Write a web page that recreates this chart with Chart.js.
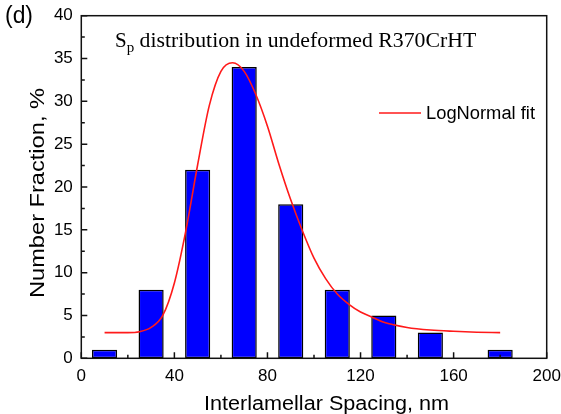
<!DOCTYPE html>
<html>
<head>
<meta charset="utf-8">
<script src="https://cdn.jsdelivr.net/npm/chart.js@4"></script>
<style>
  html, body { margin: 0; padding: 0; background: #ffffff; }
  #wrap { width: 561px; height: 414px; position: relative; }
</style>
</head>
<body>
<div id="wrap"><canvas id="c" width="561" height="414"></canvas></div>
<script>
// ---- data ----
const binCenters = [10, 30, 50, 70, 90, 110, 130, 150, 180];
const binFractions = [1, 8, 22, 34, 18, 8, 5, 3, 1];

const fitX = [10, 20, 25, 30, 35, 40, 45, 50, 55, 60, 65, 70, 75, 80, 85, 90, 95, 100, 105, 110, 115, 120, 125, 130, 140, 150, 160, 170, 180];
const fitY = [3.0, 3.0, 3.1, 3.6, 5.0, 8.8, 15.0, 22.6, 29.5, 33.5, 34.5, 33.5, 30.8, 27.1, 22.6, 18.5, 14.9, 11.7, 9.3, 7.5, 6.3, 5.4, 4.8, 4.2, 3.6, 3.3, 3.15, 3.05, 3.0];

const xTickValues = [0, 40, 80, 120, 160, 200];
const yTickValues = [0, 5, 10, 15, 20, 25, 30, 35, 40];

const panelLabel = '(d)';
const titleMain = 'S';
const titleSub = 'p';
const titleRest = ' distribution in undeformed R370CrHT';
const legendLabel = 'LogNormal fit';
const xTitle = 'Interlamellar Spacing, nm';
const yTitle = 'Number Fraction, %';

// ---- chart ----
const SANS = '"Liberation Sans", Arial, sans-serif';
const SERIF = '"Liberation Serif", "Times New Roman", serif';

function fitText(ctx, text, x, y, font, targetW, align) {
  ctx.font = font;
  const w = ctx.measureText(text).width;
  const s = targetW / w;
  ctx.save();
  ctx.translate(x, y);
  ctx.scale(s, 1);
  ctx.textAlign = align;
  ctx.fillText(text, 0, 0);
  ctx.restore();
  return w * s;
}

const decor = {
  id: 'decor',
  afterDatasetsDraw(chart) {
    const { ctx, chartArea: a, scales: { x, y } } = chart;
    ctx.save();
    ctx.strokeStyle = '#111111';
    ctx.lineWidth = 1.5;
    ctx.strokeRect(a.left, a.top, a.right - a.left, a.bottom - a.top);
    ctx.beginPath();
    for (let v = x.min; v <= x.max; v += 20) {
      const px = x.getPixelForValue(v);
      const len = (v % 40 === 0) ? 6 : 3.5;
      ctx.moveTo(px, a.bottom);
      ctx.lineTo(px, a.bottom - len);
    }
    for (let v = y.min; v <= y.max; v += 2.5) {
      const py = y.getPixelForValue(v);
      const len = (v % 5 === 0) ? 6 : 3.5;
      ctx.moveTo(a.left, py);
      ctx.lineTo(a.left + len, py);
    }
    ctx.stroke();

    // legend
    ctx.strokeStyle = '#ff1a1a';
    ctx.lineWidth = 1.6;
    ctx.beginPath();
    ctx.moveTo(379, 113);
    ctx.lineTo(421, 113);
    ctx.stroke();

    ctx.fillStyle = '#000000';
    ctx.textBaseline = 'alphabetic';
    fitText(ctx, legendLabel, 426, 119.3, '18px ' + SANS, 109, 'left');

    // panel label
    fitText(ctx, panelLabel, 5, 22.5, '23px ' + SANS, 28, 'left');

    // title
    ctx.font = '21px ' + SERIF;
    ctx.textAlign = 'left';
    ctx.fillText(titleMain, 115, 47);
    const sW = ctx.measureText(titleMain).width;
    ctx.font = '15px ' + SERIF;
    ctx.fillText(titleSub, 115 + sW, 51.5);
    const pW = ctx.measureText(titleSub).width;
    fitText(ctx, titleRest, 115 + sW + pW, 47, '21px ' + SERIF, 342, 'left');

    // axis titles
    fitText(ctx, xTitle, 326.5, 410, '20px ' + SANS, 245, 'center');
    ctx.save();
    ctx.translate(44, 193);
    ctx.rotate(-Math.PI / 2);
    fitText(ctx, yTitle, 0, 0, '20px ' + SANS, 210, 'center');
    ctx.restore();

    ctx.restore();
  }
};

new Chart(document.getElementById('c'), {
  type: 'bar',
  data: {
    datasets: [
      {
        type: 'line',
        label: legendLabel,
        data: fitX.map((v, i) => ({ x: v, y: fitY[i] })),
        borderColor: '#ff1a1a',
        borderWidth: 1.6,
        pointRadius: 0,
        fill: false,
        cubicInterpolationMode: 'monotone',
        order: 0
      },
      {
        type: 'bar',
        label: 'Number fraction',
        data: binCenters.map((v, i) => ({ x: v, y: binFractions[i] })),
        backgroundColor: '#0000ff',
        borderColor: '#000000',
        borderWidth: 1.5,
        borderSkipped: false,
        categoryPercentage: 1,
        barPercentage: 0.54,
        order: 1
      }
    ]
  },
  options: {
    responsive: false,
    animation: false,
    events: [],
    layout: { padding: { top: 15.7, right: 14.3, left: 0, bottom: 0 } },
    plugins: { legend: { display: false }, tooltip: { enabled: false }, title: { display: false } },
    scales: {
      x: {
        type: 'linear',
        min: 0,
        max: 200,
        offset: false,
        afterBuildTicks: (s) => { s.ticks = xTickValues.map(v => ({ value: v })); },
        afterFit: (s) => { s.height = 55.7; s.paddingLeft = 0; s.paddingRight = 0; },
        grid: { display: false, drawTicks: false },
        border: { display: false },
        ticks: {
          autoSkip: false,
          maxRotation: 0,
          padding: 7.4,
          color: '#000000',
          font: { family: SANS, size: 17 }
        }
      },
      y: {
        type: 'linear',
        min: 0,
        max: 40,
        afterBuildTicks: (s) => { s.ticks = yTickValues.map(v => ({ value: v })); },
        afterFit: (s) => { s.width = 81.3; s.paddingTop = 0; s.paddingBottom = 0; },
        grid: { display: false, drawTicks: false },
        border: { display: false },
        ticks: {
          autoSkip: false,
          padding: 8.5,
          color: '#000000',
          font: { family: SANS, size: 17 }
        }
      }
    }
  },
  plugins: [decor]
});
</script>
</body>
</html>
